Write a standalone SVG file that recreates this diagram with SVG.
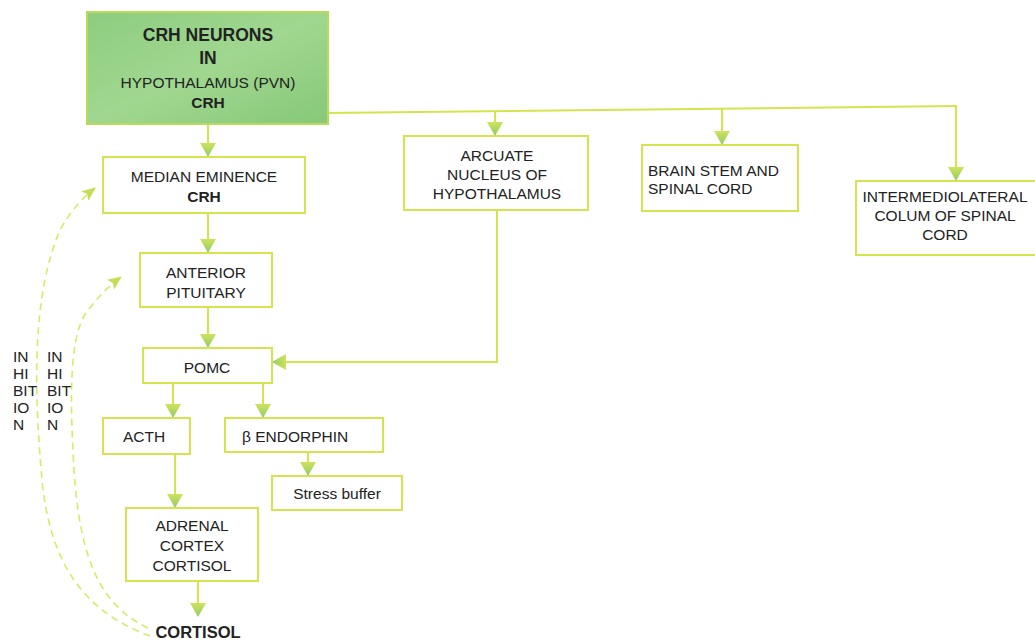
<svg xmlns="http://www.w3.org/2000/svg" width="1035" height="641" viewBox="0 0 1035 641">
  <style>
    .box { fill: #ffffff; stroke: #d5e34e; stroke-width: 2; }
    .t { font-family: "Liberation Sans", Arial, sans-serif; font-size: 15.5px; fill: #222222; text-anchor: middle; }
    .s { text-anchor: start; }
    .b { font-weight: bold; }
    .ln { fill: none; stroke: #d5e34e; stroke-width: 2; }
    .dash { fill: none; stroke: #dbe86a; stroke-width: 1.6; stroke-dasharray: 7 5; }
  </style>
  <defs>
    <linearGradient id="head" x1="0" y1="0" x2="1" y2="0">
      <stop offset="0" stop-color="#cfe35a"/>
      <stop offset="1" stop-color="#8ecb6a"/>
    </linearGradient>
    <linearGradient id="hot" x1="0" y1="0" x2="1" y2="1">
      <stop offset="0" stop-color="#8dcd80"/>
      <stop offset="0.5" stop-color="#a0d790"/>
      <stop offset="1" stop-color="#86c878"/>
    </linearGradient>
    <!-- solid arrowhead, points along the path direction -->
    <marker id="arr" viewBox="0 0 14 16" refX="13" refY="8" markerWidth="14" markerHeight="16" orient="auto" markerUnits="userSpaceOnUse">
      <path d="M0,0 L14,8 L0,16 Z" fill="url(#head)"/>
    </marker>
    <marker id="darr" viewBox="0 0 14 14" refX="13" refY="7" markerWidth="14" markerHeight="14" orient="auto" markerUnits="userSpaceOnUse">
      <path d="M0,1 L14,7 L0,13 L3,7 Z" fill="#c6de55"/>
    </marker>
  </defs>

  <!-- connectors -->
  <g id="connectors">
    <path class="ln" d="M208,124 V156" marker-end="url(#arr)"/>
    <path class="ln" d="M328,113 L957,106"/>
    <path class="ln" d="M495,111 V135" marker-end="url(#arr)"/>
    <path class="ln" d="M722,108 V144" marker-end="url(#arr)"/>
    <path class="ln" d="M956,106 V180" marker-end="url(#arr)"/>
    <path class="ln" d="M208,213 V252" marker-end="url(#arr)"/>
    <path class="ln" d="M208,307 V347" marker-end="url(#arr)"/>
    <path class="ln" d="M497,210 V362 H273" marker-end="url(#arr)"/>
    <path class="ln" d="M173,383 V417" marker-end="url(#arr)"/>
    <path class="ln" d="M263,383 V417" marker-end="url(#arr)"/>
    <path class="ln" d="M308,452 V475" marker-end="url(#arr)"/>
    <path class="ln" d="M175,454 V507" marker-end="url(#arr)"/>
    <path class="ln" d="M198,581 V616" marker-end="url(#arr)"/>
    <!-- cortisol feedback -->
    <path class="dash" d="M150,636 C80,610 50,560 42,480 C35,400 30,300 60,230 C70,212 82,198 95,188" marker-end="url(#darr)"/>
    <path class="dash" d="M148,628 C100,605 80,560 74,470 C70,400 68,330 90,308 C100,295 110,285 121,277" marker-end="url(#darr)"/>
  </g>

  <g id="crh-neurons">
    <rect x="87" y="12" width="241" height="112" fill="url(#hot)" stroke="#b8db5a" stroke-width="2"/>
    <text class="t b" x="208" y="41" style="font-size:17.5px">CRH NEURONS</text>
    <text class="t b" x="208" y="64" style="font-size:17.5px">IN</text>
    <text class="t" x="208" y="88">HYPOTHALAMUS (PVN)</text>
    <text class="t b" x="208" y="108">CRH</text>
  </g>

  <g id="median-eminence">
    <rect class="box" x="103" y="157" width="202" height="56"/>
    <text class="t" x="204" y="182">MEDIAN EMINENCE</text>
    <text class="t b" x="204" y="202">CRH</text>
  </g>

  <g id="arcuate">
    <rect class="box" x="404" y="136" width="184" height="74"/>
    <text class="t" x="497" y="161">ARCUATE</text>
    <text class="t" x="497" y="180">NUCLEUS OF</text>
    <text class="t" x="497" y="199">HYPOTHALAMUS</text>
  </g>

  <g id="brain-stem">
    <rect class="box" x="642" y="145" width="156" height="66"/>
    <text class="t s" x="648" y="176">BRAIN STEM AND</text>
    <text class="t s" x="648" y="194">SPINAL CORD</text>
  </g>

  <g id="intermediolateral">
    <rect class="box" x="856" y="181" width="185" height="74"/>
    <text class="t" x="945" y="202">INTERMEDIOLATERAL</text>
    <text class="t" x="945" y="221">COLUM OF SPINAL</text>
    <text class="t" x="945" y="240">CORD</text>
  </g>

  <g id="anterior-pituitary">
    <rect class="box" x="140" y="253" width="132" height="54"/>
    <text class="t" x="206" y="278">ANTERIOR</text>
    <text class="t" x="206" y="298">PITUITARY</text>
  </g>

  <g id="pomc">
    <rect class="box" x="143" y="348" width="129" height="35"/>
    <text class="t" x="207" y="373">POMC</text>
  </g>

  <g id="acth">
    <rect class="box" x="103" y="418" width="87" height="36"/>
    <text class="t" x="144" y="442">ACTH</text>
  </g>

  <g id="beta-endorphin">
    <rect class="box" x="225" y="418" width="158" height="34"/>
    <text class="t s" x="242" y="442">β ENDORPHIN</text>
  </g>

  <g id="stress-buffer">
    <rect class="box" x="272" y="476" width="130" height="34"/>
    <text class="t" x="337" y="499">Stress buffer</text>
  </g>

  <g id="adrenal-cortex">
    <rect class="box" x="126" y="508" width="132" height="73"/>
    <text class="t" x="192" y="531">ADRENAL</text>
    <text class="t" x="192" y="551">CORTEX</text>
    <text class="t" x="192" y="571">CORTISOL</text>
  </g>

  <g id="cortisol">
    <text class="t b" x="198" y="638" style="font-size:16.5px">CORTISOL</text>
  </g>

  <g id="inhibition-labels">
    <text class="t s" x="13" y="362">IN</text>
    <text class="t s" x="13" y="379">HI</text>
    <text class="t s" x="13" y="396">BIT</text>
    <text class="t s" x="13" y="413">IO</text>
    <text class="t s" x="13" y="430">N</text>
    <text class="t s" x="47" y="362">IN</text>
    <text class="t s" x="47" y="379">HI</text>
    <text class="t s" x="47" y="396">BIT</text>
    <text class="t s" x="47" y="413">IO</text>
    <text class="t s" x="47" y="430">N</text>
  </g>
</svg>
